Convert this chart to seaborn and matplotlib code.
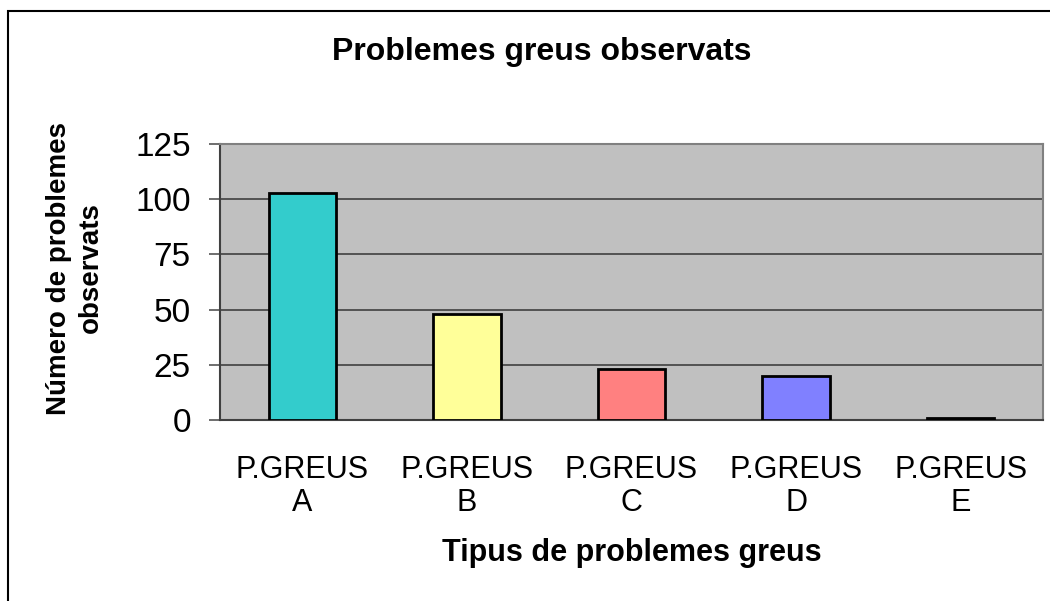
import matplotlib
matplotlib.use("Agg")
import matplotlib.pyplot as plt
import matplotlib.patches as mpatches
import seaborn as sns
import pandas as pd

categories = ["P.GREUS\nA", "P.GREUS\nB", "P.GREUS\nC", "P.GREUS\nD", "P.GREUS\nE"]
counts = [103, 48, 23, 20, 1]
bar_colors = ["#33CCCC", "#FFFF99", "#FF8080", "#8080FF", "#800080"]
y_ticks = [0, 25, 50, 75, 100, 125]

df = pd.DataFrame({"tipus": categories, "n": counts})

sns.set_style("white")
plt.rcParams["font.family"] = ["Liberation Sans", "DejaVu Sans"]
plt.rcParams["text.color"] = "black"
plt.rcParams["xtick.color"] = "black"
plt.rcParams["ytick.color"] = "black"

fig = plt.figure(figsize=(10.5, 6.01), dpi=100)
ax = fig.add_axes([220 / 1050, 1 - 420 / 601, 823 / 1050, 276 / 601])
ax.set_facecolor("#C0C0C0")

sns.barplot(data=df, x="tipus", y="n", hue="tipus", palette=bar_colors,
            saturation=1, width=0.41, edgecolor="black", linewidth=2,
            legend=False, ax=ax, zorder=3)

ax.set_ylim(0, 125)
ax.set_xlim(-0.5, len(categories) - 0.5)
ax.set_yticks(y_ticks)
ax.yaxis.grid(True, color="#404040", linewidth=1.2, zorder=1)
ax.set_axisbelow(True)

# category ticks sit between bars
ax.set_xticks([i - 0.5 for i in range(len(categories) + 1)], minor=True)
ax.tick_params(axis="x", which="minor", length=10, width=1.2, color="#555555", direction="out")
ax.tick_params(axis="x", which="major", length=0, labelsize=22, pad=25)
ax.tick_params(axis="y", length=8, width=1.2, color="#555555", direction="out",
               labelsize=24, pad=13, left=True)
for lbl in ax.get_xticklabels():
    lbl.set_linespacing(1.15)

for side in ["left", "bottom"]:
    ax.spines[side].set_color("#404040")
    ax.spines[side].set_linewidth(1.5)
for side in ["top", "right"]:
    ax.spines[side].set_color("#808080")
    ax.spines[side].set_linewidth(1.5)

ax.set_xlabel("")
ax.set_ylabel("")

fig.text(542 / 1050, 1 - 52 / 601, "Problemes greus observats",
         ha="center", va="center", fontsize=23, fontweight="bold")
fig.text(632 / 1050, 1 - 553 / 601, "Tipus de problemes greus",
         ha="center", va="center", fontsize=22, fontweight="bold")
fig.text(75 / 1050, 1 - 268 / 601, "Número de problemes\nobservats",
         ha="center", va="center", rotation=90, fontsize=20, fontweight="bold",
         linespacing=1.25)

# chart border (left and top edges visible)
border = mpatches.Rectangle((8 / 1050, -0.05), 1.2, 1 - 11 / 601 + 0.05,
                            transform=fig.transFigure, fill=False,
                            edgecolor="black", linewidth=1.5, clip_on=False)
fig.patches.append(border)

fig.savefig("out.png", dpi=100)
